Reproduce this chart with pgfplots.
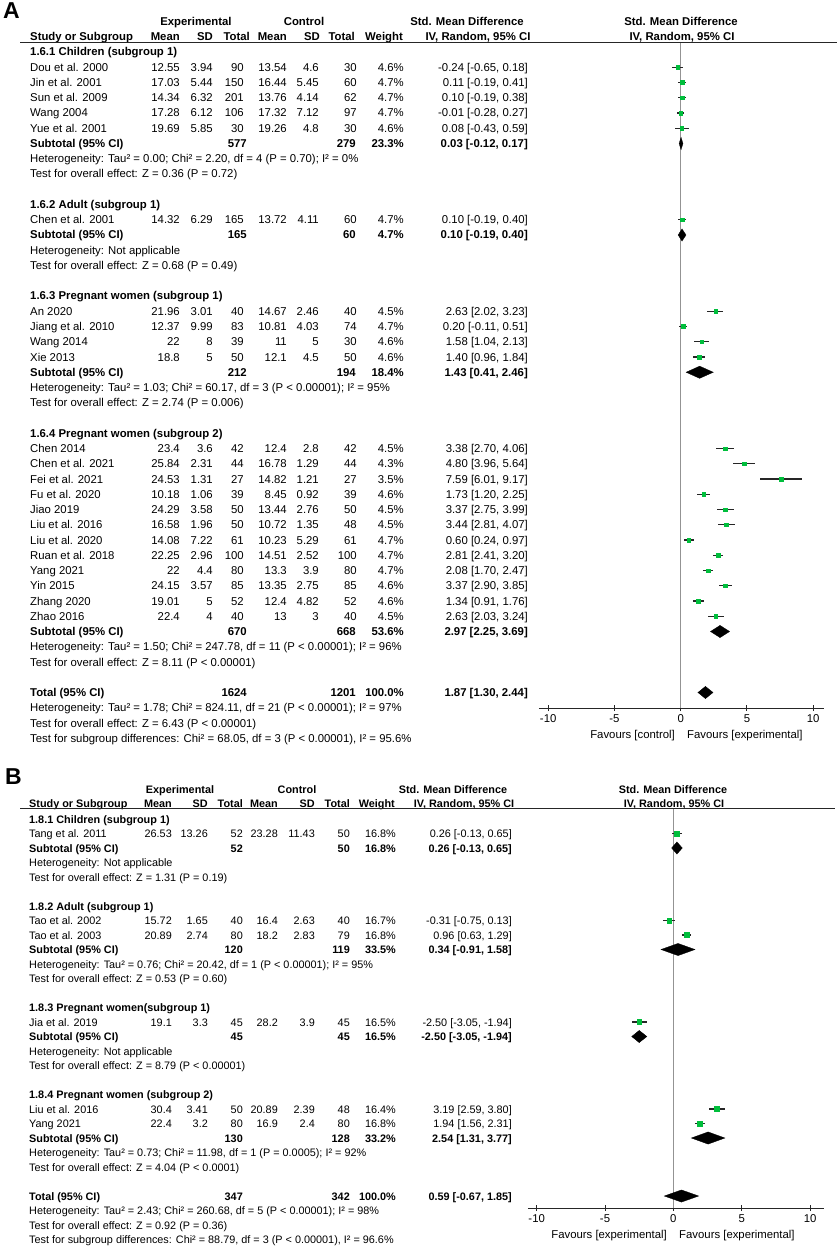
\documentclass[border=0pt]{standalone}
\usepackage{fontspec}
\setmainfont{Liberation Sans}
\usepackage{pgfplots}
\pgfplotsset{compat=1.18}
\usepackage{pgfplotstable}
\definecolor{mkgreen}{RGB}{0,190,60}

\newcommand\fA{\fontsize{11.35}{13}\selectfont}
\newcommand\fB{\fontsize{10.85}{12.5}\selectfont}
\let\curfont\fA

\newcommand\Ay[1]{\pgfmathsetmacro\yb{52+15.25*(#1-1)+4}}
\newcommand\By[1]{\pgfmathsetmacro\yb{819+14.5*(#1-1)+4}}

\newcommand\study[9]{%
 \node[L,font=\curfont] at (\cN,\yb) {#1};
 \node[R,font=\curfont] at (\cEM,\yb) {#2};
 \node[R,font=\curfont] at (\cES,\yb) {#3};
 \node[R,font=\curfont] at (\cET,\yb) {#4};
 \node[R,font=\curfont] at (\cCM,\yb) {#5};
 \node[R,font=\curfont] at (\cCS,\yb) {#6};
 \node[R,font=\curfont] at (\cCT,\yb) {#7};
 \node[R,font=\curfont] at (\cW,\yb) {#8};
 \node[R,font=\curfont] at (\cCI,\yb) {#9};}
\newcommand\subtot[5]{%
 \node[L,font=\curfont\bfseries] at (\cN,\yb) {#1};
 \node[R,font=\curfont\bfseries] at (\cETs,\yb) {#2};
 \node[R,font=\curfont\bfseries] at (\cCTs,\yb) {#3};
 \node[R,font=\curfont\bfseries] at (\cW,\yb) {#4};
 \node[R,font=\curfont\bfseries] at (\cCI,\yb) {#5};}
\newcommand\txt[1]{\node[L,font=\curfont] at (\cN,\yb) {#1};}
\newcommand\btxt[1]{\node[L,font=\curfont\bfseries] at (\cN,\yb) {#1};}

% Panel A study estimates: row, SMD, lower, upper
\pgfplotstableread{
r m lo hi
2 -0.24 -0.65 0.18
3 0.11 -0.19 0.41
4 0.10 -0.19 0.38
5 -0.01 -0.28 0.27
6 0.08 -0.43 0.59
12 0.10 -0.19 0.40
18 2.63 2.02 3.23
19 0.20 -0.11 0.51
20 1.58 1.04 2.13
21 1.40 0.96 1.84
27 3.38 2.70 4.06
28 4.80 3.96 5.64
29 7.59 6.01 9.17
30 1.73 1.20 2.25
31 3.37 2.75 3.99
32 3.44 2.81 4.07
33 0.60 0.24 0.97
34 2.81 2.41 3.20
35 2.08 1.70 2.47
36 3.37 2.90 3.85
37 1.34 0.91 1.76
38 2.63 2.03 3.24
}\studiesA
% Panel B study estimates
\pgfplotstableread{
r m lo hi
2 0.26 -0.13 0.65
8 -0.31 -0.75 0.13
9 0.96 0.63 1.29
15 -2.50 -3.05 -1.94
21 3.19 2.59 3.80
22 1.94 1.56 2.31
}\studiesB

\begin{document}
\begin{tikzpicture}
\path[use as bounding box] (0pt,0pt) rectangle (837pt,-1246pt);

% ================= Panel A: forest plot =================
\begin{axis}[at={(538.9pt,-42pt)}, anchor=north west,
  x=13.25pt, y=15.25pt,
  xmin=-10.7, xmax=10.85, ymin=-44.02, ymax=-0.3443,
  hide y axis, axis x line*=bottom,
  axis line style={black!85, line width=1pt},
  xtick={-10,-5,0,5,10}, xticklabels={-10,-5,0,5,10},
  tick align=center, major tick length=6pt,
  xtick style={black!85, line width=1pt},
  xticklabel style={font=\fA, inner sep=0pt, yshift=-3pt},
  clip=false]
\addplot[gray!85, line width=1.6pt] coordinates {(0,-0.3443) (0,-44.02)};
\addplot[only marks, mark=square*, mark size=1.8pt,
  mark options={draw=mkgreen, fill=mkgreen},
  error bars/.cd, x dir=both, x explicit, error mark=none,
  error bar style={black!85, line width=1.1pt}]
  table[x=m, y expr=-\thisrow{r},
        x error plus expr=\thisrow{hi}-\thisrow{m},
        x error minus expr=\thisrow{m}-\thisrow{lo}] {\studiesA};
\addplot[fill=black, draw=black, line width=0.3pt] coordinates {(-0.12,-7) (0.03,-6.6) (0.17,-7) (0.03,-7.4)} --cycle;
\addplot[fill=black, draw=black, line width=0.3pt] coordinates {(-0.19,-13) (0.10,-12.6) (0.40,-13) (0.10,-13.4)} --cycle;
\addplot[fill=black, draw=black, line width=0.3pt] coordinates {(0.41,-22) (1.43,-21.6) (2.46,-22) (1.43,-22.4)} --cycle;
\addplot[fill=black, draw=black, line width=0.3pt] coordinates {(2.25,-39) (2.97,-38.6) (3.69,-39) (2.97,-39.4)} --cycle;
\addplot[fill=black, draw=black, line width=0.3pt] coordinates {(1.30,-43) (1.87,-42.6) (2.44,-43) (1.87,-43.4)} --cycle;
\end{axis}

% ================= Panel B: forest plot =================
\begin{axis}[at={(527.8pt,-808pt)}, anchor=north west,
  x=13.67pt, y=14.5pt,
  xmin=-10.65, xmax=11.0, ymin=-27.83, ymax=-0.241,
  hide y axis, axis x line*=bottom,
  axis line style={black!85, line width=1pt},
  xtick={-10,-5,0,5,10}, xticklabels={-10,-5,0,5,10},
  tick align=center, major tick length=6pt,
  xtick style={black!85, line width=1pt},
  xticklabel style={font=\fA, inner sep=0pt, yshift=-3pt},
  clip=false]
\addplot[gray!85, line width=1.6pt] coordinates {(0,-0.241) (0,-27.83)};
\addplot[only marks, mark=square*, mark size=2.4pt,
  mark options={draw=mkgreen, fill=mkgreen},
  error bars/.cd, x dir=both, x explicit, error mark=none,
  error bar style={black!85, line width=1.1pt}]
  table[x=m, y expr=-\thisrow{r},
        x error plus expr=\thisrow{hi}-\thisrow{m},
        x error minus expr=\thisrow{m}-\thisrow{lo}] {\studiesB};
\addplot[fill=black, draw=black, line width=0.3pt] coordinates {(-0.13,-3) (0.26,-2.58) (0.65,-3) (0.26,-3.42)} --cycle;
\addplot[fill=black, draw=black, line width=0.3pt] coordinates {(-0.91,-10) (0.34,-9.58) (1.58,-10) (0.34,-10.42)} --cycle;
\addplot[fill=black, draw=black, line width=0.3pt] coordinates {(-3.05,-16) (-2.50,-15.58) (-1.94,-16) (-2.50,-16.42)} --cycle;
\addplot[fill=black, draw=black, line width=0.3pt] coordinates {(1.31,-23) (2.54,-22.58) (3.77,-23) (2.54,-23.42)} --cycle;
\addplot[fill=black, draw=black, line width=0.3pt] coordinates {(-0.67,-27) (0.59,-26.58) (1.85,-27) (0.59,-27.42)} --cycle;
\end{axis}

\begin{scope}[x=1pt,y=-1pt,
  L/.style={anchor=base west,inner sep=0pt},
  R/.style={anchor=base east,inner sep=0pt},
  C/.style={anchor=base,inner sep=0pt}]
% ================= Panel A: table =================
\let\curfont\fA
\def\cN{30}\def\cEM{180}\def\cES{213}\def\cET{244}\def\cCM{287}\def\cCS{319}\def\cCT{357}\def\cW{404}\def\cCI{528}
\def\cETs{247}\def\cCTs{356}
\node[anchor=base west,inner sep=0pt,font=\fontsize{23}{23}\selectfont\bfseries] at (3,19) {A};
\node[C,font=\fA\bfseries] at (196,26) {Experimental};
\node[C,font=\fA\bfseries] at (304,26) {Control};
\node[C,font=\fA\bfseries] at (467,26) {Std. Mean Difference};
\node[C,font=\fA\bfseries] at (681,26) {Std. Mean Difference};
\node[L,font=\fA\bfseries] at (30,41) {Study or Subgroup};
\node[R,font=\fA\bfseries] at (180,41) {Mean};
\node[R,font=\fA\bfseries] at (213,41) {SD};
\node[R,font=\fA\bfseries] at (250,41) {Total};
\node[R,font=\fA\bfseries] at (287,41) {Mean};
\node[R,font=\fA\bfseries] at (320,41) {SD};
\node[R,font=\fA\bfseries] at (355,41) {Total};
\node[R,font=\fA\bfseries] at (403,41) {Weight};
\node[C,font=\fA\bfseries] at (478,41) {IV, Random, 95\% CI};
\node[C,font=\fA\bfseries] at (682,41) {IV, Random, 95\% CI};
\draw[black!85, line width=1.2pt] (20,42.5) -- (837,42.5);

\Ay{1}\btxt{1.6.1 Children (subgroup 1)}
\Ay{2}\study{Dou et al. 2000}{12.55}{3.94}{90}{13.54}{4.6}{30}{4.6\%}{-0.24 [-0.65, 0.18]}
\Ay{3}\study{Jin et al. 2001}{17.03}{5.44}{150}{16.44}{5.45}{60}{4.7\%}{0.11 [-0.19, 0.41]}
\Ay{4}\study{Sun et al. 2009}{14.34}{6.32}{201}{13.76}{4.14}{62}{4.7\%}{0.10 [-0.19, 0.38]}
\Ay{5}\study{Wang 2004}{17.28}{6.12}{106}{17.32}{7.12}{97}{4.7\%}{-0.01 [-0.28, 0.27]}
\Ay{6}\study{Yue et al. 2001}{19.69}{5.85}{30}{19.26}{4.8}{30}{4.6\%}{0.08 [-0.43, 0.59]}
\Ay{7}\subtot{Subtotal (95\% CI)}{577}{279}{23.3\%}{0.03 [-0.12, 0.17]}
\Ay{8}\txt{Heterogeneity: Tau² = 0.00; Chi² = 2.20, df = 4 (P = 0.70); I² = 0\%}
\Ay{9}\txt{Test for overall effect: Z = 0.36 (P = 0.72)}
\Ay{11}\btxt{1.6.2 Adult (subgroup 1)}
\Ay{12}\study{Chen et al. 2001}{14.32}{6.29}{165}{13.72}{4.11}{60}{4.7\%}{0.10 [-0.19, 0.40]}
\Ay{13}\subtot{Subtotal (95\% CI)}{165}{60}{4.7\%}{0.10 [-0.19, 0.40]}
\Ay{14}\txt{Heterogeneity: Not applicable}
\Ay{15}\txt{Test for overall effect: Z = 0.68 (P = 0.49)}
\Ay{17}\btxt{1.6.3 Pregnant women (subgroup 1)}
\Ay{18}\study{An 2020}{21.96}{3.01}{40}{14.67}{2.46}{40}{4.5\%}{2.63 [2.02, 3.23]}
\Ay{19}\study{Jiang et al. 2010}{12.37}{9.99}{83}{10.81}{4.03}{74}{4.7\%}{0.20 [-0.11, 0.51]}
\Ay{20}\study{Wang 2014}{22}{8}{39}{11}{5}{30}{4.6\%}{1.58 [1.04, 2.13]}
\Ay{21}\study{Xie 2013}{18.8}{5}{50}{12.1}{4.5}{50}{4.6\%}{1.40 [0.96, 1.84]}
\Ay{22}\subtot{Subtotal (95\% CI)}{212}{194}{18.4\%}{1.43 [0.41, 2.46]}
\Ay{23}\txt{Heterogeneity: Tau² = 1.03; Chi² = 60.17, df = 3 (P < 0.00001); I² = 95\%}
\Ay{24}\txt{Test for overall effect: Z = 2.74 (P = 0.006)}
\Ay{26}\btxt{1.6.4 Pregnant women (subgroup 2)}
\Ay{27}\study{Chen 2014}{23.4}{3.6}{42}{12.4}{2.8}{42}{4.5\%}{3.38 [2.70, 4.06]}
\Ay{28}\study{Chen et al. 2021}{25.84}{2.31}{44}{16.78}{1.29}{44}{4.3\%}{4.80 [3.96, 5.64]}
\Ay{29}\study{Fei et al. 2021}{24.53}{1.31}{27}{14.82}{1.21}{27}{3.5\%}{7.59 [6.01, 9.17]}
\Ay{30}\study{Fu et al. 2020}{10.18}{1.06}{39}{8.45}{0.92}{39}{4.6\%}{1.73 [1.20, 2.25]}
\Ay{31}\study{Jiao 2019}{24.29}{3.58}{50}{13.44}{2.76}{50}{4.5\%}{3.37 [2.75, 3.99]}
\Ay{32}\study{Liu et al. 2016}{16.58}{1.96}{50}{10.72}{1.35}{48}{4.5\%}{3.44 [2.81, 4.07]}
\Ay{33}\study{Liu et al. 2020}{14.08}{7.22}{61}{10.23}{5.29}{61}{4.7\%}{0.60 [0.24, 0.97]}
\Ay{34}\study{Ruan et al. 2018}{22.25}{2.96}{100}{14.51}{2.52}{100}{4.7\%}{2.81 [2.41, 3.20]}
\Ay{35}\study{Yang 2021}{22}{4.4}{80}{13.3}{3.9}{80}{4.7\%}{2.08 [1.70, 2.47]}
\Ay{36}\study{Yin 2015}{24.15}{3.57}{85}{13.35}{2.75}{85}{4.6\%}{3.37 [2.90, 3.85]}
\Ay{37}\study{Zhang 2020}{19.01}{5}{52}{12.4}{4.82}{52}{4.6\%}{1.34 [0.91, 1.76]}
\Ay{38}\study{Zhao 2016}{22.4}{4}{40}{13}{3}{40}{4.5\%}{2.63 [2.03, 3.24]}
\Ay{39}\subtot{Subtotal (95\% CI)}{670}{668}{53.6\%}{2.97 [2.25, 3.69]}
\Ay{40}\txt{Heterogeneity: Tau² = 1.50; Chi² = 247.78, df = 11 (P < 0.00001); I² = 96\%}
\Ay{41}\txt{Test for overall effect: Z = 8.11 (P < 0.00001)}
\Ay{43}\subtot{Total (95\% CI)}{1624}{1201}{100.0\%}{1.87 [1.30, 2.44]}
\Ay{44}\txt{Heterogeneity: Tau² = 1.78; Chi² = 824.11, df = 21 (P < 0.00001); I² = 97\%}
\Ay{45}\txt{Test for overall effect: Z = 6.43 (P < 0.00001)}
\Ay{46}\txt{Test for subgroup differences: Chi² = 68.05, df = 3 (P < 0.00001), I² = 95.6\%}
\node[R,font=\fA] at (675,738) {Favours [control]};
\node[L,font=\fA] at (687,738) {Favours [experimental]};

% ================= Panel B: table =================
\let\curfont\fB
\def\cN{29}\def\cEM{172}\def\cES{208}\def\cET{243}\def\cCM{278}\def\cCS{315}\def\cCT{350}\def\cW{396}\def\cCI{512}
\def\cETs{243}\def\cCTs{350}
\node[anchor=base west,inner sep=0pt,font=\fontsize{23}{23}\selectfont\bfseries] at (5,784) {B};
\node[C,font=\fB\bfseries] at (180,793) {Experimental};
\node[C,font=\fB\bfseries] at (297,793) {Control};
\node[C,font=\fB\bfseries] at (453,793) {Std. Mean Difference};
\node[C,font=\fB\bfseries] at (673,793) {Std. Mean Difference};
\node[L,font=\fB\bfseries] at (29,807) {Study or Subgroup};
\node[R,font=\fB\bfseries] at (172,807) {Mean};
\node[R,font=\fB\bfseries] at (208,807) {SD};
\node[R,font=\fB\bfseries] at (243,807) {Total};
\node[R,font=\fB\bfseries] at (278,807) {Mean};
\node[R,font=\fB\bfseries] at (315,807) {SD};
\node[R,font=\fB\bfseries] at (350,807) {Total};
\node[R,font=\fB\bfseries] at (395,807) {Weight};
\node[C,font=\fB\bfseries] at (464,807) {IV, Random, 95\% CI};
\node[C,font=\fB\bfseries] at (674,807) {IV, Random, 95\% CI};
\draw[black!85, line width=1.2pt] (20,808.5) -- (835,808.5);

\By{1}\btxt{1.8.1 Children (subgroup 1)}
\By{2}\study{Tang et al. 2011}{26.53}{13.26}{52}{23.28}{11.43}{50}{16.8\%}{0.26 [-0.13, 0.65]}
\By{3}\subtot{Subtotal (95\% CI)}{52}{50}{16.8\%}{0.26 [-0.13, 0.65]}
\By{4}\txt{Heterogeneity: Not applicable}
\By{5}\txt{Test for overall effect: Z = 1.31 (P = 0.19)}
\By{7}\btxt{1.8.2 Adult (subgroup 1)}
\By{8}\study{Tao et al. 2002}{15.72}{1.65}{40}{16.4}{2.63}{40}{16.7\%}{-0.31 [-0.75, 0.13]}
\By{9}\study{Tao et al. 2003}{20.89}{2.74}{80}{18.2}{2.83}{79}{16.8\%}{0.96 [0.63, 1.29]}
\By{10}\subtot{Subtotal (95\% CI)}{120}{119}{33.5\%}{0.34 [-0.91, 1.58]}
\By{11}\txt{Heterogeneity: Tau² = 0.76; Chi² = 20.42, df = 1 (P < 0.00001); I² = 95\%}
\By{12}\txt{Test for overall effect: Z = 0.53 (P = 0.60)}
\By{14}\btxt{1.8.3 Pregnant women(subgroup 1)}
\By{15}\study{Jia et al. 2019}{19.1}{3.3}{45}{28.2}{3.9}{45}{16.5\%}{-2.50 [-3.05, -1.94]}
\By{16}\subtot{Subtotal (95\% CI)}{45}{45}{16.5\%}{-2.50 [-3.05, -1.94]}
\By{17}\txt{Heterogeneity: Not applicable}
\By{18}\txt{Test for overall effect: Z = 8.79 (P < 0.00001)}
\By{20}\btxt{1.8.4 Pregnant women (subgroup 2)}
\By{21}\study{Liu et al. 2016}{30.4}{3.41}{50}{20.89}{2.39}{48}{16.4\%}{3.19 [2.59, 3.80]}
\By{22}\study{Yang 2021}{22.4}{3.2}{80}{16.9}{2.4}{80}{16.8\%}{1.94 [1.56, 2.31]}
\By{23}\subtot{Subtotal (95\% CI)}{130}{128}{33.2\%}{2.54 [1.31, 3.77]}
\By{24}\txt{Heterogeneity: Tau² = 0.73; Chi² = 11.98, df = 1 (P = 0.0005); I² = 92\%}
\By{25}\txt{Test for overall effect: Z = 4.04 (P < 0.0001)}
\By{27}\subtot{Total (95\% CI)}{347}{342}{100.0\%}{0.59 [-0.67, 1.85]}
\By{28}\txt{Heterogeneity: Tau² = 2.43; Chi² = 260.68, df = 5 (P < 0.00001); I² = 98\%}
\By{29}\txt{Test for overall effect: Z = 0.92 (P = 0.36)}
\By{30}\txt{Test for subgroup differences: Chi² = 88.79, df = 3 (P < 0.00001), I² = 96.6\%}
\node[R,font=\fA] at (667,1238) {Favours [experimental]};
\node[L,font=\fA] at (679,1238) {Favours [experimental]};
\end{scope}
\end{tikzpicture}
\end{document}
